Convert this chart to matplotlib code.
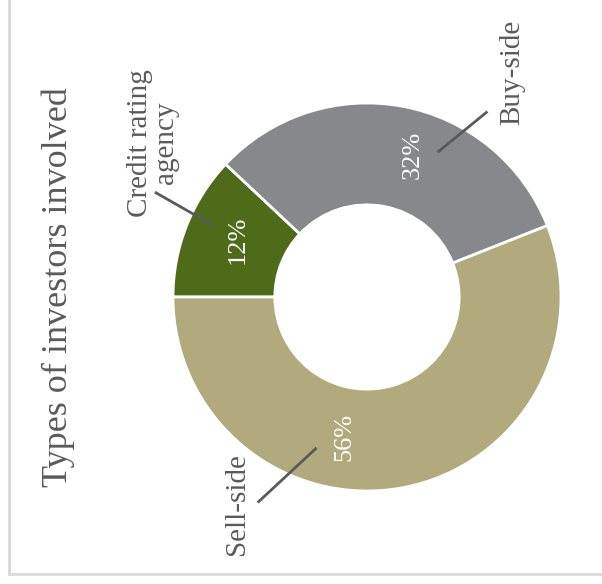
#!/usr/bin/env python3
"""
Donut chart: types of investors involved (rotated 90 degrees layout)
"""

import numpy as np
import matplotlib
matplotlib.use("Agg")
import matplotlib.pyplot as plt
from matplotlib.lines import Line2D

# データ
categories = ["Credit rating\nagency", "Buy-side", "Sell-side"]
shares = [12, 32, 56]
pct_labels = ["12%", "32%", "56%"]
colors = ["#4e6b1a", "#87888c", "#b0aa7c"]

title = "Types of investors involved"

# レイアウト (角度[deg], 半径) — ラベルと引き出し線の位置
pct_pos = [(156, 0.73), (72, 0.77), (-99, 0.73)]
line_pos = [((155, 0.88), (153.7, 1.22)),
            ((64, 0.83), (57, 1.14)),
            ((-108.5, 0.82), (-118, 1.20))]
label_pos = [(144.2, 1.36), (57.1, 1.38), (-122, 1.26)]

text_color = "#5a5a5a"
serif = ["Liberation Serif", "DejaVu Serif"]


def polar(angle, r):
    a = np.deg2rad(angle)
    return r * np.cos(a), r * np.sin(a)


def main():
    plt.rcParams["font.family"] = serif
    fig = plt.figure(figsize=(6.02, 5.84), dpi=100)
    ax = fig.add_axes([0, 0, 1, 1])

    # 中心 (367, 297) px, 半径 194 px
    cx, cy, R = 367, 297, 194
    W, H = 602, 584

    ax.pie(shares, colors=colors, startangle=180, counterclock=False,
           radius=1.0,
           wedgeprops=dict(width=0.525, edgecolor="white", linewidth=2))
    ax.set_xlim(-cx / R, (W - cx) / R)
    ax.set_ylim(-(H - cy) / R, cy / R)
    ax.set_aspect("auto")
    ax.axis("off")

    for i in range(len(shares)):
        x, y = polar(*pct_pos[i])
        ax.text(x, y, pct_labels[i], rotation=90, ha="center", va="center",
                color="white", fontsize=19)

        (a0, r0), (a1, r1) = line_pos[i]
        x0, y0 = polar(a0, r0)
        x1, y1 = polar(a1, r1)
        ax.plot([x0, x1], [y0, y1], color=text_color, linewidth=2,
                solid_capstyle="butt")

        lx, ly = polar(*label_pos[i])
        ax.text(lx, ly, categories[i], rotation=90, ha="center", va="center",
                multialignment="center", color=text_color, fontsize=21,
                linespacing=1.0)

    # タイトル
    fig.text(0.097, 0.509, title, rotation=90, ha="center", va="center",
             color=text_color, fontsize=26)

    # 枠線 (左と下)
    fig.add_artist(Line2D([9 / W, 9 / W], [1, 1 - 574 / H],
                          transform=fig.transFigure, color="#d9d9d9", lw=2))
    fig.add_artist(Line2D([9 / W, 1], [1 - 574 / H, 1 - 574 / H],
                          transform=fig.transFigure, color="#d9d9d9", lw=2))

    fig.savefig("out.png", dpi=100)
    plt.close(fig)


if __name__ == "__main__":
    main()
